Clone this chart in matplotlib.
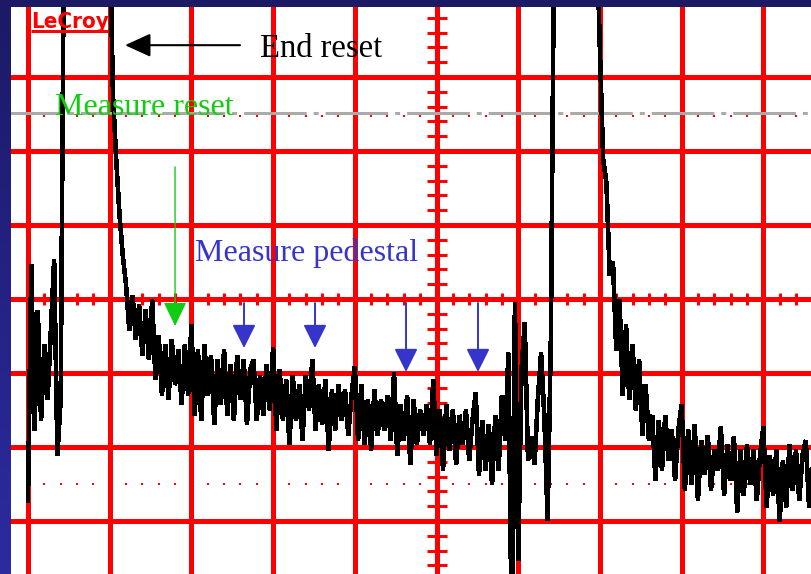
import numpy as np
import matplotlib.pyplot as plt

# Canal do osciloscópio, em divisões verticais, uma amostra a cada 0.04 div
dt = 0.04
div0 = [-2.72, 0.46, -1.77, -0.15, -1.64, -0.62, -1.36, -0.42, 0.53, -2.11, -1.36,
        5.0, 5.0, 5.0, 5.0, 5.0, 5.0, 5.0, 5.0, 5.0, 5.0, 5.0, 5.0, 5.0, 5.0]
div1 = [5.0, 2.76, 1.88, 1.14, 0.59, 0.19, -0.42, 0.05, -0.55, -0.08, -0.76, -0.15, -0.82,
        -0.01, -1.09, -0.49, -1.30, -0.62, -1.36, -0.55, -1.16, -0.69, -1.43, -0.62, -1.30]
div2 = [-0.35, -1.57, -0.69, -1.64, -0.62, -1.30, -0.76, -1.70, -0.82, -1.43, -0.69, -1.57, -0.89,
        -1.64, -0.76, -1.36, -0.82, -1.70, -0.96, -0.82, -1.64, -1.03, -1.57, -0.89, -1.50]
div3 = [-0.65, -1.77, -0.96, -1.64, -1.09, -1.97, -1.03, -1.64, -1.16, -1.91, -1.03, -1.50, -0.82,
        -1.77, -1.16, -1.70, -1.09, -2.04, -1.23, -1.77, -1.16, -1.64, -1.23, -1.84, -1.30]
div4 = [-0.91, -1.91, -1.16, -1.97, -1.36, -2.04, -1.23, -1.84, -1.36, -1.77, -1.30, -1.91, -1.00,
        -2.11, -1.43, -1.91, -1.30, -2.24, -1.36, -1.97, -1.50, -1.84, -1.43, -1.97, -1.09]
div5 = [-2.11, -1.50, -2.31, -1.43, -2.04, -1.50, -2.24, -1.57, -1.97, -1.50, -2.18, -1.64, -1.27,
        -2.38, -1.64, -2.31, -1.70, -2.51, -1.57, -2.31, -1.30, -1.91, -0.73, -4.50, -0.05]
div6 = [-3.53, -0.96, -0.32, -2.18, -1.86, -2.24, -1.36, -0.73, -1.59, -2.99, -0.51,
        5.0, 5.0, 5.0, 5.0, 5.0, 5.0, 5.0, 5.0, 5.0, 5.0, 5.0, 5.0, 5.0, 5.0]
div7 = [3.36, 1.88, 1.57, 0.32, 0.50, -0.69, -0.01, -1.30, -0.35, -1.36, -0.62, -1.50, -0.82,
        -1.84, -1.16, -1.91, -1.57, -2.45, -1.64, -2.31, -1.57, -2.18, -1.77, -2.45, -1.77]
div8 = [-1.43, -2.58, -1.77, -2.51, -1.70, -2.72, -1.91, -2.37, -1.84, -2.58, -2.04, -2.31, -1.73,
        -2.65, -1.97, -2.45, -1.86, -2.88, -2.04, -2.65, -1.97, -2.51, -2.04, -2.72, -2.11]
div9 = [-1.73, -2.81, -2.11, -2.65, -2.04, -3.01, -2.18, -2.81, -1.97, -2.58, -2.04, -2.72,
        -2.11, -1.91, -2.81, -2.24]

# Pontos de medida do pedestal (x em div) e ponta de cada seta
ped_x = [2.644, 3.513, 4.627, 5.508]
ped_tip = [-0.662, -0.662, -0.986, -0.986]

RED = '#ff0000'
GREEN = '#12cc12'
BLUE = '#3535cc'
SERIF = 'Liberation Serif'


def arrow(ax, x0, y0, x1, y1, color, lw, hl, hw):
    ax.annotate('', xy=(x1, y1), xytext=(x0, y0), zorder=6,
                arrowprops=dict(arrowstyle=f'-|>,head_length={hl},head_width={hw}',
                                mutation_scale=1, color=color, lw=lw,
                                shrinkA=0, shrinkB=0))


def draw_screen():
    fig = plt.figure(figsize=(8.12, 5.74), dpi=100)
    fig.patch.set_facecolor('#1c1a64')

    # faixa azul à esquerda, em degradê
    side = fig.add_axes([0, 0, 11 / 812, 1])
    grad = np.linspace(0, 1, 256)[:, None]
    top_c = np.array([0.11, 0.10, 0.40])
    bot_c = np.array([0.17, 0.17, 0.63])
    side.imshow(top_c + grad[..., None] * (bot_c - top_c), aspect='auto', extent=(0, 1, 0, 1))
    side.axis('off')

    # tela branca
    ax = fig.add_axes([11 / 812, 0, 801 / 812, 567 / 574], facecolor='white')
    ax.set_xlim(-0.208, 9.596)
    ax.set_ylim(-3.716, 3.946)
    ax.set_xticks([])
    ax.set_yticks([])
    for s in ax.spines.values():
        s.set_visible(False)

    # grade
    for k in range(0, 11):
        ax.axvline(k, color=RED, lw=2.2, zorder=1, antialiased=False)
    for j in range(-4, 5):
        ax.axhline(j, color=RED, lw=2.2, zorder=1, antialiased=False)
    sub_x = np.arange(0, 9.7, 0.2)
    sub_y = np.arange(-3.8, 4.0, 0.2)
    ax.plot(sub_x, np.zeros_like(sub_x), ls='none', marker='|', ms=9,
            mew=2.2, color=RED, zorder=1)
    ax.plot(np.full_like(sub_y, 5.0), sub_y, ls='none', marker='_', ms=13.7,
            mew=2.2, color=RED, zorder=1)
    ax.plot(sub_x, np.full_like(sub_x, 2.47), ls='none', marker='s', ms=2.0,
            mew=0, color=RED, zorder=1)
    ax.plot(sub_x, np.full_like(sub_x, -2.5), ls='none', marker='s', ms=2.0,
            mew=0, color=RED, zorder=1)

    # nível de referência (traço-ponto cinza)
    plt.rcParams['lines.scale_dashes'] = False
    ax.plot([-0.4, 10], [2.51, 2.51], color='#aaaaaa', lw=2.2,
            dash_capstyle='butt', ls=(0, (45.1, 5.0, 3.6, 5.0)), zorder=2)

    # traço
    trace = np.array(div0 + div1 + div2 + div3 + div4 + div5 + div6 + div7 + div8 + div9)
    t = np.arange(len(trace)) * dt
    ax.plot(t, trace, color='black', lw=2.6, solid_joinstyle='bevel',
            antialiased=False, zorder=3)

    # logotipo
    ax.text(0.037, 3.66, 'LeCroy', color=RED, fontsize=16, fontweight='bold',
            family='DejaVu Sans', fontstretch='condensed', va='baseline', zorder=5)
    ax.plot([0.037, 0.98], [3.624, 3.624], color=RED, lw=2.2, solid_capstyle='butt', zorder=5)

    # anotações
    ax.text(2.84, 3.27, 'End reset', family=SERIF, fontsize=23.5, color='black',
            va='baseline', zorder=6)
    arrow(ax, 2.595, 3.43, 1.187, 3.43, 'black', 1.5, 15.8, 7.2)

    ax.text(0.33, 2.486, 'Measure reset', family=SERIF, fontsize=23, color=GREEN,
            va='baseline', zorder=6)
    arrow(ax, 1.80, 1.784, 1.80, -0.365, GREEN, 1.0, 15.0, 7.2)

    ax.text(2.044, 0.514, 'Measure pedestal', family=SERIF, fontsize=23, color=BLUE,
            va='baseline', zorder=6)
    for x, tip in zip(ped_x, ped_tip):
        arrow(ax, x, -0.054, x, tip, BLUE, 1.4, 14.4, 7.2)

    fig.savefig('out.png', dpi=100, facecolor=fig.get_facecolor())


if __name__ == '__main__':
    draw_screen()
